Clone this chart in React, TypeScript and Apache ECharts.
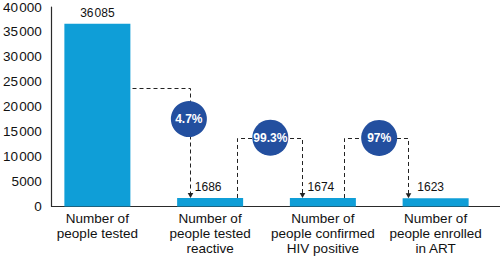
import React, { useEffect, useRef } from 'react';
import * as echarts from 'echarts';

// ---- data ----
const CATEGORIES = [
  'Number of\npeople tested',
  'Number of\npeople tested\nreactive',
  'Number of\npeople confirmed\nHIV positive',
  'Number of\npeople enrolled\nin ART',
];
const VALUES = [36085, 1686, 1674, 1623];
const RATE_LABELS = ['4.7%', '99.3%', '97%'];
const STEPS = [
  [0, 1],
  [1, 2],
  [2, 3],
];
const Y_MIN = 0;
const Y_MAX = 40000;
const Y_INTERVAL = 5000;

// ---- layout / style ----
const FONT = "'Liberation Sans', Arial, sans-serif";
const BAR_WIDTH = 66;
const LABEL_DX = [0, -2, -2, -5];
const CONNECTOR_LAYOUT = [
  { startDx: 34.5, arrowDx: -20.5, levelValue: 23350, circleDx: 91.5, circleValue: 17280 },
  { startDx: 26.4, arrowDx: -21.3, levelValue: 13550, circleDx: 60.2, circleValue: 13600 },
  { startDx: 21.3, arrowDx: -27.2, levelValue: 13550, circleDx: 56.3, circleValue: 13550 },
];
const BAR_COLOR = '#0f9ed7';
const CIRCLE_COLOR = '#234f9f';
const LINE_COLOR = '#222';
const AXIS_COLOR = '#2a2a2a';

// numbers of five digits or more are grouped with a hair space
const fmt = (v: number) => {
  const s = String(Math.round(v));
  return s.length >= 5 ? s.replace(/\B(?=(\d{3})+(?!\d))/g, '\u200A') : s;
};

export default function App() {
  const ref = useRef<HTMLDivElement>(null);

  useEffect(() => {
    if (!ref.current) return;
    const chart = echarts.init(ref.current, undefined, { renderer: 'svg' });

    const crisp = (v: number) => Math.round(v) + 0.5;

    chart.setOption({
      animation: false,
      grid: [
        { left: 41, right: 8, top: 4, height: 202.5 },
        { left: 49, right: 0, top: 4, height: 202.5 },
      ],
      xAxis: [
        {
          type: 'category',
          gridIndex: 0,
          data: CATEGORIES,
          axisLine: { show: false },
          axisTick: { show: false },
          axisLabel: {
            interval: 0,
            margin: 4,
            color: '#111',
            fontSize: 13.5,
            lineHeight: 15,
            fontFamily: FONT,
          },
        },
        {
          type: 'value',
          gridIndex: 1,
          min: 0,
          max: 1,
          axisLine: { show: true, lineStyle: { color: AXIS_COLOR, width: 1.2 } },
          axisTick: { show: false },
          axisLabel: { show: false },
          splitLine: { show: false },
        },
      ],
      yAxis: [
        {
          type: 'value',
          gridIndex: 0,
          min: Y_MIN,
          max: Y_MAX,
          interval: Y_INTERVAL,
          show: false,
        },
        {
          type: 'value',
          gridIndex: 1,
          min: Y_MIN,
          max: Y_MAX,
          interval: Y_INTERVAL,
          axisLine: { show: true, lineStyle: { color: AXIS_COLOR, width: 1.2 } },
          axisTick: { show: false },
          splitLine: { show: false },
          axisLabel: {
            margin: 10,
            color: '#111',
            fontSize: 13.5,
            fontFamily: FONT,
            padding: [4, 0, 0, 0],
            formatter: (v: number) => fmt(v),
          },
        },
      ],
      series: [
        {
          type: 'bar',
          xAxisIndex: 0,
          yAxisIndex: 0,
          data: VALUES.map((v, i) => ({ value: v, label: { offset: [LABEL_DX[i], 0] } })),
          barWidth: BAR_WIDTH,
          itemStyle: { color: BAR_COLOR },
          label: {
            show: true,
            position: 'top',
            distance: 5,
            color: '#111',
            fontSize: 12,
            fontFamily: FONT,
            formatter: (p: any) => fmt(p.value),
          },
          z: 2,
        },
        {
          type: 'custom',
          xAxisIndex: 0,
          yAxisIndex: 0,
          coordinateSystem: 'cartesian2d',
          data: STEPS.map((s) => [s[0], VALUES[s[0]]]),
          z: 5,
          silent: true,
          renderItem: (params: any, api: any) => {
            const k = params.dataIndex;
            const [fi, ti] = STEPS[k];
            const L = CONNECTOR_LAYOUT[k];
            const fromCx = api.coord([fi, 0])[0];
            const toCx = api.coord([ti, 0])[0];
            const fromTop = api.coord([fi, VALUES[fi]])[1];
            const toTop = api.coord([ti, VALUES[ti]])[1];
            const yL = crisp(api.coord([fi, L.levelValue])[1]);
            const sx = crisp(fromCx + L.startDx);
            const sy = Math.max(fromTop, yL);
            const ax = crisp(toCx + L.arrowDx);
            const cx = fromCx + L.circleDx;
            const cy = api.coord([fi, L.circleValue])[1];
            return {
              type: 'group',
              children: [
                {
                  type: 'polyline',
                  shape: {
                    points: [
                      [sx, sy],
                      [sx, yL],
                      [ax, yL],
                      [ax, toTop - 4],
                    ],
                  },
                  style: { stroke: LINE_COLOR, lineWidth: 1, lineDash: [4, 3], fill: null },
                },
                {
                  type: 'polygon',
                  shape: {
                    points: [
                      [ax - 2.8, toTop - 5],
                      [ax + 2.8, toTop - 5],
                      [ax, toTop],
                    ],
                  },
                  style: { fill: LINE_COLOR },
                },
                {
                  type: 'circle',
                  shape: { cx, cy, r: 18 },
                  style: { fill: CIRCLE_COLOR },
                },
                {
                  type: 'text',
                  style: {
                    text: RATE_LABELS[k],
                    x: cx,
                    y: cy,
                    align: 'center',
                    verticalAlign: 'middle',
                    fill: '#fff',
                    fontSize: 12,
                    fontWeight: 'bold',
                    fontFamily: FONT,
                  },
                },
              ],
            };
          },
        },
      ],
    });

    return () => chart.dispose();
  }, []);

  return (
    <div
      ref={ref}
      style={{ position: 'fixed', left: 0, top: 0, width: 500, height: 256, background: '#fff' }}
    />
  );
}
